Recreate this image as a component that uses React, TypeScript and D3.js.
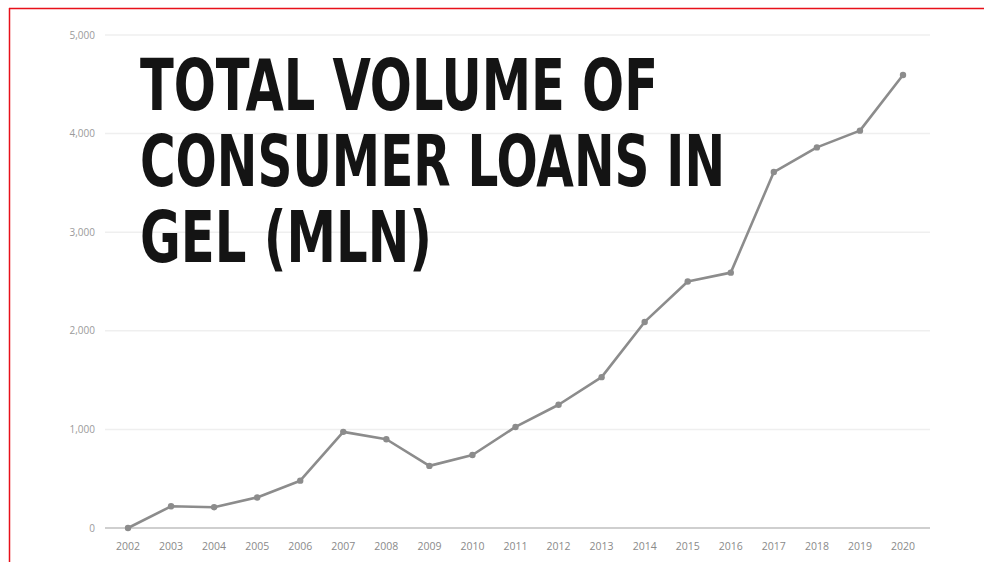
import React from "react";
import * as d3 from "d3";

const years = [2002, 2003, 2004, 2005, 2006, 2007, 2008, 2009, 2010, 2011, 2012, 2013, 2014, 2015, 2016, 2017, 2018, 2019, 2020];
const values = [0, 220, 210, 310, 480, 975, 900, 630, 740, 1025, 1250, 1530, 2090, 2500, 2590, 3610, 3860, 4030, 4595];
const yTicks = [0, 1000, 2000, 3000, 4000, 5000];
const titleLines = ["TOTAL VOLUME OF", "CONSUMER LOANS IN", "GEL (MLN)"];

const W = 984;
const H = 562;

export default function App() {
  const x = d3.scaleLinear().domain([2002, 2020]).range([128, 903]);
  const y = d3.scaleLinear().domain([0, 5000]).range([528, 35]);
  const fmt = d3.format(",");
  const line = d3
    .line<number>()
    .x((_, i) => x(years[i]))
    .y((d) => y(d));

  const titleWidths = [518, 585, 292];

  return (
    <svg
      width={W}
      height={H}
      style={{ position: "absolute", left: 0, top: 0, background: "#fff" }}
      fontFamily="'Open Sans', sans-serif"
    >
      <rect x={0} y={0} width={W} height={H} fill="#fff" />
      {/* red frame */}
      <line x1={9} x2={W} y1={8.5} y2={8.5} stroke="#e8101a" strokeWidth={1.5} />
      <line x1={9.5} x2={9.5} y1={8} y2={H} stroke="#e8101a" strokeWidth={1.5} />

      {/* gridlines */}
      {yTicks.map((t) => (
        <g key={t}>
          <line
            x1={105}
            x2={930}
            y1={y(t)}
            y2={y(t)}
            stroke={t === 0 ? "#cfcfcf" : "#efefef"}
            strokeWidth={t === 0 ? 2 : 1.5}
          />
          <text
            x={95}
            y={y(t)}
            dy="0.35em"
            textAnchor="end"
            fontSize={10}
            fill="#9a9a9a"
          >
            {fmt(t)}
          </text>
        </g>
      ))}

      {/* x labels */}
      {years.map((yr) => (
        <text
          key={yr}
          x={x(yr)}
          y={546}
          dy="0.35em"
          textAnchor="middle"
          fontSize={10.5}
          fill="#8a8a8a"
        >
          {yr}
        </text>
      ))}

      {/* line */}
      <path d={line(values) || ""} fill="none" stroke="#8c8c8c" strokeWidth={2.6} strokeLinejoin="round" />
      {values.map((v, i) => (
        <circle key={i} cx={x(years[i])} cy={y(v)} r={3.2} fill="#8c8c8c" />
      ))}

      {/* title */}
      {titleLines.map((t, i) => (
        <text
          key={t}
          x={140}
          y={110 + i * 76}
          fontFamily="'DejaVu Sans Condensed', 'Liberation Sans Narrow', sans-serif"
          fontWeight="bold"
          fontSize={72}
          fill="#141414"
          textLength={titleWidths[i]}
          lengthAdjust="spacingAndGlyphs"
        >
          {t}
        </text>
      ))}
    </svg>
  );
}
